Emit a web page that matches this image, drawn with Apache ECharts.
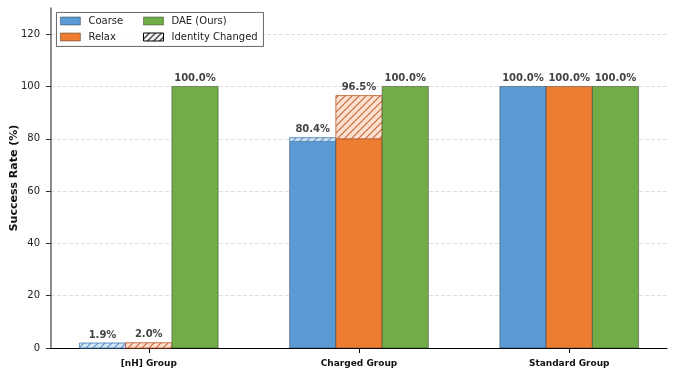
<!DOCTYPE html>
<html><head><meta charset="utf-8">
<script src="https://cdn.jsdelivr.net/npm/echarts@6/dist/echarts.min.js"></script>
<style>html,body{margin:0;padding:0;background:#fff}#c{width:675px;height:377px}</style>
</head><body><div id="c"></div>
<script>
const categories = ['[nH] Group', 'Charged Group', 'Standard Group'];
const coarseTotal = [1.9, 80.4, 100.0];
const coarseKept = [0, 79.0, 100.0];
const relaxTotal = [2.0, 96.5, 100.0];
const relaxKept = [0, 80.0, 100.0];
const daeValues = [100.0, 100.0, 100.0];
const yTicks = [0, 20, 40, 60, 80, 100, 120];
const gridValues = [20, 40, 60, 80, 100, 120];

const FONT = 'DejaVu Sans';
const C_BLUE = '#5b9bd5', C_ORANGE = '#ed7d31', C_GREEN = '#70ad47';
const BAR_W = 0.22;

function hatch(bg, line, size) {
  const c = document.createElement('canvas');
  c.width = size; c.height = size;
  const g = c.getContext('2d');
  if (bg) { g.fillStyle = bg; g.fillRect(0, 0, size, size); }
  g.strokeStyle = line; g.lineWidth = 1.1;
  g.beginPath();
  g.moveTo(0, size); g.lineTo(size, 0);
  g.moveTo(-2, 2); g.lineTo(2, -2);
  g.moveTo(size - 2, size + 2); g.lineTo(size + 2, size - 2);
  g.stroke();
  return { image: c, repeat: 'repeat' };
}

// rows: [categoryIndex, base, top, labelValue|null]
const rowsSolid = kept => kept.map((v, i) => [i, 0, v, null]);
const rowsChanged = (total, kept) => total.map((v, i) => [i, kept[i], v, v]);

function barRenderer(offset, fill, stroke, lw) {
  return function (params, api) {
    const x = api.value(0) + offset;
    const b = api.value(1), t = api.value(2);
    const lab = api.value(3);
    const p0 = api.coord([x - BAR_W / 2, b]);
    const p1 = api.coord([x + BAR_W / 2, t]);
    const children = [];
    if (t > b) {
      children.push({
        type: 'rect', z2: 1,
        shape: { x: p0[0], y: p1[1], width: p1[0] - p0[0], height: p0[1] - p1[1] },
        style: { fill: fill, stroke: stroke, lineWidth: lw }
      });
    }
    if (lab !== null && !isNaN(lab)) {
      children.push({
        type: 'text', x: (p0[0] + p1[0]) / 2, y: p1[1] - 3, z2: 2,
        style: {
          text: Number(lab).toFixed(1) + '%', align: 'center', verticalAlign: 'bottom',
          font: 'bold 10px "' + FONT + '"', fill: '#444'
        }
      });
    }
    return { type: 'group', children: children };
  };
}

function customSeries(name, data, offset, fill, stroke, lw, legendColor) {
  return {
    name: name, type: 'custom', z: 10,
    itemStyle: { color: legendColor },
    encode: { x: 0, y: [1, 2] },
    renderItem: barRenderer(offset, fill, stroke, lw),
    data: data
  };
}

const solidStroke = 'rgba(40,40,40,0.55)';
const legendText = { fontFamily: FONT, fontSize: 10, color: '#222', padding: [0, 0, 0, 3] };

const chart = echarts.init(document.getElementById('c'), null, { renderer: 'canvas' });
chart.setOption({
  animation: false,
  textStyle: { fontFamily: FONT },
  grid: { left: 51, right: 8, top: 8, bottom: 29, containLabel: false, outerBoundsMode: 'none' },
  xAxis: {
    type: 'value', min: -0.465, max: 2.465,
    splitLine: { show: false },
    axisLine: { show: true, onZero: false, lineStyle: { color: '#000', width: 1.2 } },
    axisTick: { show: true, customValues: [0, 1, 2], length: 5, lineStyle: { color: '#000' } },
    axisLabel: {
      customValues: [0, 1, 2], margin: 11,
      formatter: v => categories[Math.round(v)],
      fontFamily: FONT, fontWeight: 'bold', fontSize: 9, color: '#111'
    }
  },
  yAxis: {
    type: 'value', min: 0, max: 130,
    name: 'Success Rate (%)', nameLocation: 'middle', nameGap: 31, nameMoveOverlap: false,
    nameTextStyle: { fontFamily: FONT, fontWeight: 'bold', fontSize: 11, color: '#111' },
    axisLine: { show: true, onZero: false, lineStyle: { color: '#666', width: 1.5 } },
    axisTick: { show: true, customValues: yTicks, length: 5, lineStyle: { color: '#333' } },
    axisLabel: { customValues: yTicks, margin: 11, fontFamily: FONT, fontSize: 10, color: '#222' },
    splitLine: { show: false }
  },
  graphic: [{
    type: 'rect', left: 56, top: 12, z: 20,
    shape: { width: 207, height: 34 },
    style: { fill: 'rgba(255,255,255,0.85)', stroke: '#555', lineWidth: 0.9 }
  }],
  legend: [{
    orient: 'vertical', left: 60, top: 16, z: 30, padding: 0,
    itemWidth: 20, itemHeight: 8, itemGap: 6, icon: 'rect',
    textStyle: legendText, selectedMode: false,
    data: [
      { name: 'Coarse', itemStyle: { color: C_BLUE, borderColor: solidStroke, borderWidth: 0.8 } },
      { name: 'Relax', itemStyle: { color: C_ORANGE, borderColor: solidStroke, borderWidth: 0.8 } }
    ]
  }, {
    orient: 'vertical', left: 143, top: 16, z: 30, padding: 0,
    itemWidth: 20, itemHeight: 8, itemGap: 6, icon: 'rect',
    textStyle: legendText, selectedMode: false,
    data: [
      { name: 'DAE (Ours)', itemStyle: { color: C_GREEN, borderColor: solidStroke, borderWidth: 0.8 } },
      { name: 'Identity Changed', itemStyle: { color: hatch('#fff', '#000', 6), borderColor: '#000', borderWidth: 1 } }
    ]
  }],
  series: [
    {
      name: 'grid', type: 'line', data: [], z: 0, silent: true,
      markLine: {
        symbol: 'none', silent: true, label: { show: false }, z: 0,
        lineStyle: { color: '#d8d8d8', type: [4, 2], width: 0.8 },
        data: gridValues.map(v => ({ yAxis: v }))
      }
    },
    customSeries('Coarse', rowsSolid(coarseKept), -BAR_W, C_BLUE, solidStroke, 0.8, C_BLUE),
    customSeries('Coarse changed', rowsChanged(coarseTotal, coarseKept), -BAR_W,
      hatch('#d6e5f4', '#5b8fc7', 7), '#4f86be', 0.9, C_BLUE),
    customSeries('Relax', rowsSolid(relaxKept), 0, C_ORANGE, solidStroke, 0.8, C_ORANGE),
    customSeries('Relax changed', rowsChanged(relaxTotal, relaxKept), 0,
      hatch('#fbe1cf', '#c8653a', 7), '#c8653a', 0.9, C_ORANGE),
    customSeries('DAE (Ours)', daeValues.map((v, i) => [i, 0, v, v]), BAR_W, C_GREEN, solidStroke, 0.8, C_GREEN),
    customSeries('Identity Changed', [], 0, '#fff', '#000', 1, '#000')
  ]
});
</script></body></html>
